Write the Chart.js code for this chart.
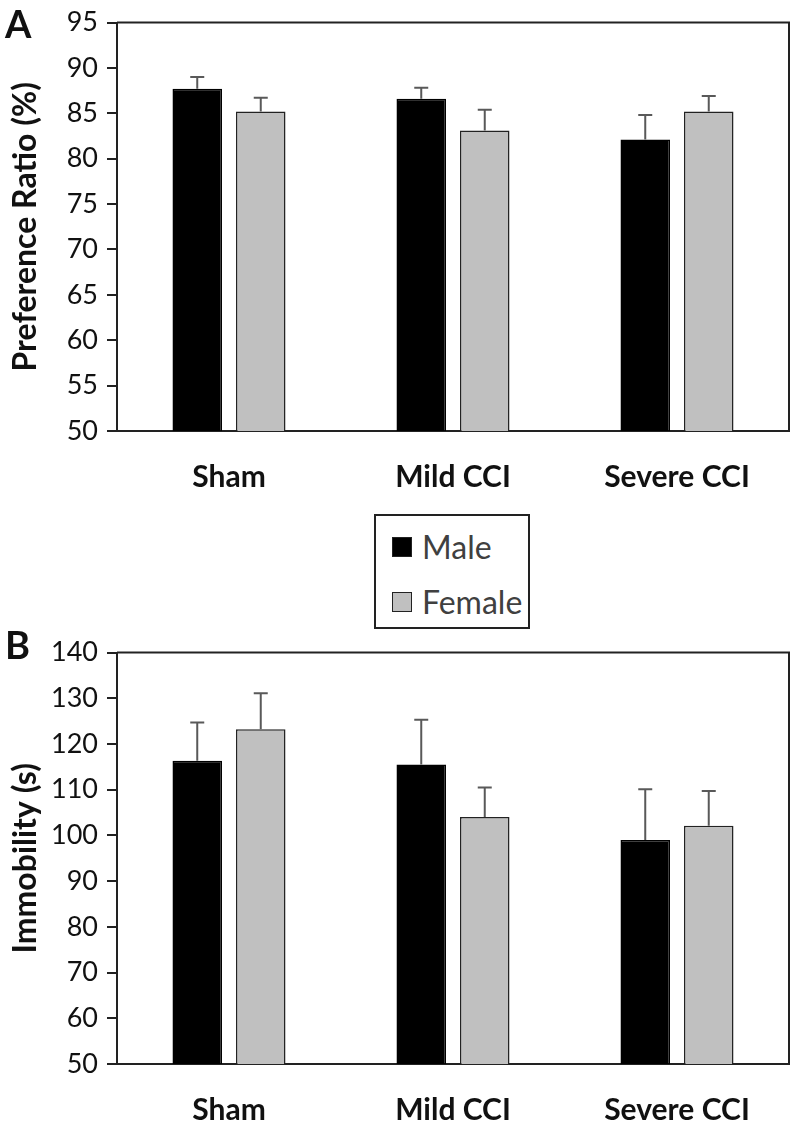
<!DOCTYPE html>
<html>
<head>
<meta charset="utf-8">
<script src="https://cdn.jsdelivr.net/npm/chart.js@4"></script>
<style>
    body { margin: 0; background: #fff; font-family: Lato, 'Open Sans', sans-serif; }
    #page { position: relative; width: 792px; height: 1123px; }
    canvas { position: absolute; left: 0; }
    .panel-label { position: absolute; font-weight: bold; font-size: 38px; color: #111; line-height: 1; }
    #legend { position: absolute; left: 374px; top: 514px; width: 152px; height: 111px; border: 2px solid #222; }
    .legend-item { position: absolute; left: 16px; display: flex; align-items: center; font-size: 32px; color: #404040; }
    .legend-swatch { width: 20px; height: 20px; margin-right: 10px; box-sizing: border-box; }
</style>
</head>
<body>
<div id="page">
    <canvas id="preference-graph" width="792" height="500" style="top:0"></canvas>
    <canvas id="immobility-graph" width="792" height="493" style="top:630px"></canvas>
    <div class="panel-label" style="left:5px;top:4px">A</div>
    <div class="panel-label" style="left:5px;top:625px">B</div>
    <div id="legend"></div>
</div>
<script>
const categories = ['Sham', 'Mild CCI', 'Severe CCI'];
const seriesNames = ['Male', 'Female'];
const seriesColors = ['#000000', '#c0c0c0'];

// panel A: preference ratio (%)
const preferenceMale = [87.7, 86.6, 82.1];
const preferenceMaleErr = [1.3, 1.2, 2.7];
const preferenceFemale = [85.2, 83.1, 85.2];
const preferenceFemaleErr = [1.5, 2.3, 1.7];

// panel B: immobility (s)
const immobilityMale = [116.3, 115.5, 99.0];
const immobilityMaleErr = [8.4, 9.8, 11.1];
const immobilityFemale = [123.2, 104.0, 102.1];
const immobilityFemaleErr = [7.9, 6.5, 7.6];

const FONT = 'Lato, "Open Sans", sans-serif';

// upward-only error bars, drawn from each bar's top
const errorBars = {
    id: 'errorBars',
    afterDatasetsDraw(chart) {
        const ctx = chart.ctx;
        const yScale = chart.scales.y;
        ctx.save();
        ctx.strokeStyle = '#595959';
        ctx.lineWidth = 2;
        chart.data.datasets.forEach((ds, i) => {
            chart.getDatasetMeta(i).data.forEach((bar, j) => {
                const top = yScale.getPixelForValue(ds.data[j] + ds.errors[j]);
                ctx.beginPath();
                ctx.moveTo(bar.x, bar.y);
                ctx.lineTo(bar.x, top);
                ctx.moveTo(bar.x - 7, top);
                ctx.lineTo(bar.x + 7, top);
                ctx.stroke();
            });
        });
        ctx.restore();
    }
};

// top and right edges of the plot frame
const frame = {
    id: 'frame',
    afterDraw(chart) {
        const {ctx, chartArea: a} = chart;
        ctx.save();
        ctx.strokeStyle = '#222';
        ctx.lineWidth = 2;
        ctx.beginPath();
        ctx.moveTo(a.left, a.top);
        ctx.lineTo(a.right, a.top);
        ctx.lineTo(a.right, a.bottom);
        ctx.stroke();
        ctx.restore();
    }
};

function makeDataset(i, values, errors) {
    return {
        label: seriesNames[i],
        data: values,
        errors: errors,
        backgroundColor: seriesColors[i],
        borderColor: i === 0 ? '#000' : '#222',
        borderWidth: 1.5,
        categoryPercentage: 0.567,
        barPercentage: 0.78
    };
}

function makeGraph(canvasId, title, min, max, step, male, maleErr, female, femaleErr, xHeight, padTop) {
    return new Chart(document.getElementById(canvasId), {
        type: 'bar',
        data: {
            labels: categories,
            datasets: [makeDataset(0, male, maleErr), makeDataset(1, female, femaleErr)]
        },
        options: {
            responsive: false,
            animation: false,
            devicePixelRatio: 1,
            layout: {padding: {top: padTop, right: 3, left: 0, bottom: 0}},
            plugins: {legend: {display: false}, tooltip: {enabled: false}},
            scales: {
                x: {
                    grid: {display: false, drawTicks: false},
                    border: {color: '#222', width: 2},
                    ticks: {color: '#111', font: {family: FONT, size: 30, weight: 'bold'}, padding: 28},
                    afterFit: s => { s.height = xHeight; }
                },
                y: {
                    min: min,
                    max: max,
                    ticks: {stepSize: step, color: '#111', font: {family: FONT, size: 27, lineHeight: 1}, padding: 9},
                    grid: {drawOnChartArea: false, tickLength: 10, color: '#222', lineWidth: 2},
                    border: {color: '#222', width: 2},
                    title: {display: true, text: title, color: '#111', font: {family: FONT, size: 32, weight: 'bold'}, padding: {top: 6, bottom: 0}},
                    afterFit: s => { s.width = 117; }
                }
            }
        },
        plugins: [errorBars, frame]
    });
}

function renderLegend() {
    const legend = document.getElementById('legend');
    seriesNames.forEach((name, i) => {
        const item = document.createElement('div');
        item.className = 'legend-item';
        item.style.top = (i === 0 ? 11 : 66) + 'px';
        const swatch = document.createElement('span');
        swatch.className = 'legend-swatch';
        swatch.style.background = seriesColors[i];
        swatch.style.border = '1.5px solid #222';
        item.appendChild(swatch);
        item.appendChild(document.createTextNode(name));
        legend.appendChild(item);
    });
}

makeGraph('preference-graph', 'Preference Ratio (%)', 50, 95, 5,
          preferenceMale, preferenceMaleErr, preferenceFemale, preferenceFemaleErr, 69, 12);
makeGraph('immobility-graph', 'Immobility (s)', 50, 140, 10,
          immobilityMale, immobilityMaleErr, immobilityFemale, immobilityFemaleErr, 59, 15);
renderLegend();
</script>
</body>
</html>
